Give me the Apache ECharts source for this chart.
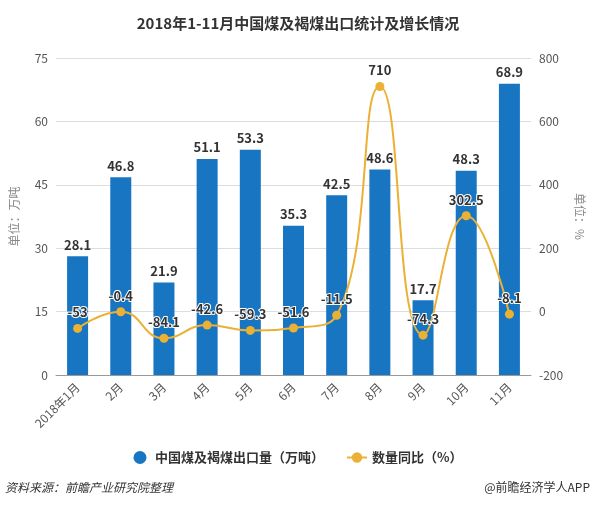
<!DOCTYPE html>
<html><head><meta charset="utf-8">
<script src="https://cdn.jsdelivr.net/npm/echarts@6/dist/echarts.min.js"></script>
<style>html,body{margin:0;padding:0;background:#fff}#c{width:596px;height:505px}</style>
</head><body><div id="c"></div>
<script>
const categories = ['2018年1月','2月','3月','4月','5月','6月','7月','8月','9月','10月','11月'];
const exportVolume = [28.1, 46.8, 21.9, 51.1, 53.3, 35.3, 42.5, 48.6, 17.7, 48.3, 68.9];
const yoyGrowth = [-53, -0.4, -84.1, -42.6, -59.3, -51.6, -11.5, 710, -74.3, 302.5, -8.1];
const leftTicks = {min: 0, max: 75, interval: 15};
const rightTicks = {min: -200, max: 800, interval: 200};

const chart = echarts.init(document.getElementById('c'), null, {renderer: 'canvas'});
const font = '"Microsoft YaHei","Noto Sans CJK SC",sans-serif';
chart.setOption({
  animation: false,
  textStyle: {fontFamily: font},
  title: {
    text: '2018年1-11月中国煤及褐煤出口统计及增长情况',
    left: 'center', top: 11,
    textStyle: {fontSize: 15, fontWeight: 'bold', color: '#333', fontFamily: font}
  },
  grid: {left: 52, right: 65, top: 58, bottom: 130},
  legend: {
    bottom: 36, left: 'center', itemGap: 22,
    textStyle: {fontSize: 13, fontWeight: 'bold', color: '#333'},
    data: [
      {name: '中国煤及褐煤出口量（万吨）', icon: 'circle'},
      {name: '数量同比（%）'}
    ],
    itemWidth: 20, itemHeight: 13
  },
  graphic: [
    {type: 'text', left: 5, top: 481, style: {text: '资料来源：前瞻产业研究院整理', fill: '#333', font: 'italic 12px ' + font}},
    {type: 'text', right: 6, top: 481, style: {text: '@前瞻经济学人APP', fill: '#333', font: '12px ' + font}}
  ],
  xAxis: {
    type: 'category', data: categories,
    axisLine: {lineStyle: {color: '#999'}},
    axisTick: {alignWithLabel: true, lineStyle: {color: '#999'}},
    axisLabel: {rotate: 45, color: '#555', fontSize: 12, interval: 0, margin: 10}
  },
  yAxis: [
    {
      type: 'value', min: leftTicks.min, max: leftTicks.max, interval: leftTicks.interval,
      name: '单位：万吨', nameLocation: 'middle', nameGap: 36,
      nameTextStyle: {color: '#888', fontSize: 12},
      axisLine: {show: false}, axisTick: {show: false},
      axisLabel: {color: '#555', fontSize: 12},
      splitLine: {lineStyle: {color: '#ddd'}}
    },
    {
      type: 'value', min: rightTicks.min, max: rightTicks.max, interval: rightTicks.interval,
      name: '单位：%', nameLocation: 'middle', nameGap: 42, nameRotate: -90,
      nameTextStyle: {color: '#888', fontSize: 12},
      axisLine: {show: false}, axisTick: {show: false},
      axisLabel: {color: '#555', fontSize: 12},
      splitLine: {show: false}
    }
  ],
  series: [
    {
      name: '中国煤及褐煤出口量（万吨）', type: 'bar', data: exportVolume,
      barWidth: 21, itemStyle: {color: '#1875C2'},
      label: {show: true, position: 'top', fontWeight: 'bold', fontSize: 13, color: '#333'}
    },
    {
      name: '数量同比（%）', type: 'line', yAxisIndex: 1, data: yoyGrowth,
      smooth: 0.5, symbol: 'circle', symbolSize: 9,
      itemStyle: {color: '#EBB134'}, lineStyle: {color: '#EBB134', width: 2},
      label: {show: true, position: 'top', fontWeight: 'bold', fontSize: 13, color: '#333',
               textBorderColor: '#fff', textBorderWidth: 2}
    }
  ]
});
</script></body></html>
